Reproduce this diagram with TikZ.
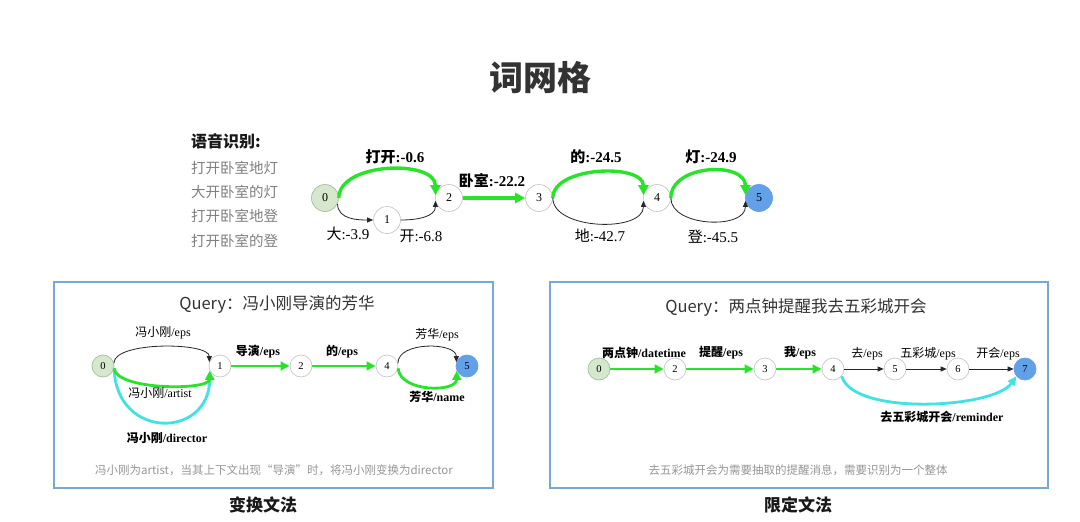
\documentclass[tikz,border=0pt]{standalone}
\usepackage{fontspec}
\setmainfont{Liberation Serif}
\newfontfamily\cjk{Noto Sans CJK SC}
\usetikzlibrary{arrows.meta}
\definecolor{lgreen}{RGB}{40,228,40}
\definecolor{lcyan}{RGB}{64,226,226}
\definecolor{startfill}{RGB}{213,231,205}
\definecolor{startdraw}{RGB}{165,192,155}
\definecolor{endfill}{RGB}{98,160,232}
\definecolor{boxblue}{RGB}{120,168,215}
\definecolor{titlegray}{RGB}{51,51,51}
\definecolor{listgray}{RGB}{128,128,128}
\definecolor{capgray}{RGB}{150,150,150}
\definecolor{nodegray}{RGB}{200,200,200}
\newcommand\zh[1]{{\cjk #1}}
\newcommand\fs[1]{\fontsize{#1}{#1}\selectfont}
\tikzset{
  lat/.style={circle, draw=nodegray, line width=0.7pt, fill=white, minimum size=27pt, inner sep=0pt, font=\fs{12}},
  latS/.style={lat, fill=startfill, draw=startdraw},
  latF/.style={lat, fill=endfill, draw=endfill},
  sm/.style={lat, minimum size=22pt, font=\fs{10.5}},
  smS/.style={sm, fill=startfill, draw=startdraw},
  smF/.style={sm, fill=endfill, draw=endfill},
  grbig/.style={draw=lgreen, line width=3.4pt, -{Triangle[length=10pt,width=10pt]}},
  gr/.style={draw=lgreen, line width=2.8pt, -{Triangle[length=9pt,width=8.5pt]}},
  bk/.style={draw=black!85, line width=0.8pt, -{Triangle[length=6pt,width=5pt]}},
  cy/.style={draw=lcyan, line width=2.8pt, -{Triangle[length=9pt,width=8.5pt]}},
  lbl/.style={font=\fs{15}, inner sep=0pt},
  lblb/.style={font=\bfseries\fs{15}, inner sep=0pt},
  mlbl/.style={font=\fs{12}, inner sep=0pt},
  mlblb/.style={font=\bfseries\fs{12}, inner sep=0pt},
  panel/.style={draw=boxblue, line width=1.4pt, inner sep=0pt},
  query/.style={font=\cjk\fs{16.5}, text=titlegray, inner sep=0pt},
  capt/.style={font=\cjk\fs{11.5}, text=capgray, inner sep=0pt},
  heading/.style={font=\cjk\bfseries\fs{17}, text=black!90, inner sep=0pt},
  asritem/.style={font=\cjk\fs{14.5}, text=listgray, anchor=west, inner sep=0pt}
}
\begin{document}
\begin{tikzpicture}[x=1pt,y=-1pt]
\useasboundingbox (0,0) rectangle (1080,522);
\fill[white] (0,0) rectangle (1080,522);

% title
\node[font=\cjk\bfseries\fs{34}, text=titlegray, inner sep=0pt] (title) at (540,78) {词网格};

% ASR list
\node[font=\cjk\bfseries\fs{16}, text=black!90, anchor=west, inner sep=0pt] (asr) at (191,141) {语音识别:};
\node[asritem] (asr1) at (191,168) {打开卧室地灯};
\node[asritem] (asr2) at (191,192) {大开卧室的灯};
\node[asritem] (asr3) at (191,216) {打开卧室地登};
\node[asritem] (asr4) at (191,241) {打开卧室的登};

% top lattice
\node[latS] (a0) at (325,198) {0};
\node[lat]  (a1) at (387,220) {1};
\node[lat]  (a2) at (449,198) {2};
\node[lat]  (a3) at (539,198) {3};
\node[lat]  (a4) at (657,198) {4};
\node[latF] (a5) at (759,198) {5};

\draw[grbig] (a0.east) .. controls +(0,-36) and +(0,-36) .. (a2.168);
\draw[bk] (a0.-25) .. controls +(0,16) and +(-14,0) .. (a1.west);
\draw[bk] (a1.east) .. controls +(16,0) and +(0,16) .. (a2.192);
\draw[grbig] (a2) -- (a3);
\draw[grbig] (a3.east) .. controls +(0,-32) and +(0,-32) .. (a4.168);
\draw[bk] (a3.east) .. controls +(0,32) and +(0,32) .. (a4.192);
\draw[grbig] (a4.east) .. controls +(0,-34) and +(0,-34) .. (a5.168);
\draw[bk] (a4.east) .. controls +(0,29) and +(0,29) .. (a5.192);

\node[lblb] (la02) at (395,157) {\zh{打开}:-0.6};
\node[lbl] (la01) at (348,234) {\zh{大}:-3.9};
\node[lbl] (la12) at (421,236) {\zh{开}:-6.8};
\node[lblb] (la23) at (492,181) {\zh{卧室}:-22.2};
\node[lblb] (la34g) at (596,157) {\zh{的}:-24.5};
\node[lbl] (la34b) at (600,236) {\zh{地}:-42.7};
\node[lblb] (la45g) at (711,157) {\zh{灯}:-24.9};
\node[lbl] (la45b) at (713,237) {\zh{登}:-45.5};

% left panel
\node[panel, minimum width=439pt, minimum height=206pt] (boxL) at (273.5,385) {};
\node[query] (qL) at (277,304) {Query：冯小刚导演的芳华};
\node[smS] (b0) at (103,366) {0};
\node[sm]  (b1) at (220,366) {1};
\node[sm]  (b2) at (301,366) {2};
\node[sm]  (b4) at (387,366) {4};
\node[smF] (b5) at (467,366) {5};

\draw[cy] (b0.-12) .. controls +(2,72) and +(0,68) .. (b1.205);
\draw[gr] (b0.-12) .. controls +(2,22) and +(0,20) .. (b1.205);
\draw[bk] (b0.15) .. controls +(0,-22) and +(0,-20) .. (b1.160);
\draw[gr] (b1) -- (b2);
\draw[gr] (b2) -- (b4);
\draw[bk] (b4.15) .. controls +(0,-22) and +(0,-20) .. (b5.160);
\draw[gr] (b4.-12) .. controls +(2,24) and +(0,22) .. (b5.205);

\node[mlbl] (lb01e) at (163,333) {\zh{冯小刚}/eps};
\node[mlblb] (lb12) at (258,352) {\zh{导演}/eps};
\node[mlblb] (lb24) at (342,352) {\zh{的}/eps};
\node[mlbl] (lb45e) at (437,335) {\zh{芳华}/eps};
\node[mlbl] (lb01a) at (160,393) {\zh{冯小刚}/artist};
\node[mlblb] (lb01d) at (167,438) {\zh{冯小刚}/director};
\node[mlblb] (lb45n) at (437,397) {\zh{芳华}/name};
\node[capt] (capL) at (274,470) {冯小刚为artist，当其上下文出现“导演”时，将冯小刚变换为director};
\node[heading] (hL) at (263,505) {变换文法};

% right panel
\node[panel, minimum width=498pt, minimum height=206pt] (boxR) at (799,385) {};
\node[query] (qR) at (796,307) {Query：两点钟提醒我去五彩城开会};
\node[smS] (c0) at (599,369) {0};
\node[sm]  (c2) at (675,369) {2};
\node[sm]  (c3) at (765,369) {3};
\node[sm]  (c4) at (833,369) {4};
\node[sm]  (c5) at (895,369) {5};
\node[sm]  (c6) at (958,369) {6};
\node[smF] (c7) at (1025,369) {7};

\draw[gr] (c0) -- (c2);
\draw[gr] (c2) -- (c3);
\draw[gr] (c3) -- (c4);
\draw[bk] (c4) -- (c5);
\draw[bk] (c5) -- (c6);
\draw[bk] (c6) -- (c7);
\draw[cy] (c4.-40) .. controls +(12,40) and +(-22,32) .. (c7.220);

\node[mlblb] (lc02) at (644,353) {\zh{两点钟}/datetime};
\node[mlblb] (lc23) at (721,353) {\zh{提醒}/eps};
\node[mlblb] (lc34) at (800,353) {\zh{我}/eps};
\node[mlbl] (lc45) at (867,354) {\zh{去}/eps};
\node[mlbl] (lc56) at (928,354) {\zh{五彩城}/eps};
\node[mlbl] (lc67) at (998,354) {\zh{开会}/eps};
\node[mlblb] (lc47) at (942,417) {\zh{去五彩城开会}/reminder};
\node[capt] (capR) at (798,470) {去五彩城开会为需要抽取的提醒消息，需要识别为一个整体};
\node[heading] (hR) at (798,505) {限定文法};
\end{tikzpicture}
\end{document}
